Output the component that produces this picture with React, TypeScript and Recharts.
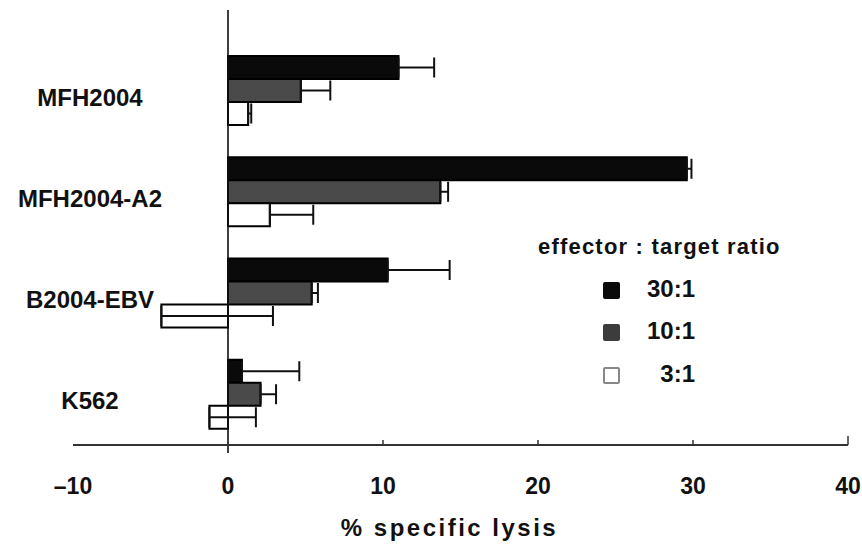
import React from 'react';
import { BarChart, Bar, XAxis, YAxis, ErrorBar, ReferenceLine, Legend, Label } from 'recharts';

const categories = ['MFH2004', 'MFH2004-A2', 'B2004-EBV', 'K562'];
const lysis30 = [11.0, 29.6, 10.3, 0.9];
const lysis10 = [4.7, 13.7, 5.4, 2.1];
const lysis3 = [1.3, 2.7, -4.3, -1.2];
const err30 = [2.3, 0.3, 4.0, 3.7];
const err10 = [1.9, 0.5, 0.4, 1.0];
const err3 = [0.2, 2.8, 7.2, 3.0];
const xTicks = [-10, 0, 10, 20, 30, 40];
const seriesNames = ['30:1', '10:1', '3:1'];

const data = categories.map((name, i) => ({
  name,
  r30: lysis30[i],
  r10: lysis10[i],
  r3: lysis3[i],
  e30: [0, err30[i]],
  e10: [0, err10[i]],
  e3: [0, err3[i]],
}));

const FONT = '"Liberation Sans", Arial, Helvetica, sans-serif';
const fills = ['#0a0a0a', '#4a4a4a', '#ffffff'];
const legendFills = ['#0a0a0a', '#3c3c3c', '#ffffff'];
const legendBorders = ['#0a0a0a', '#3c3c3c', '#888888'];
const TICK_GAP = 33;

const YTick = (props: any) => {
  const { y, payload } = props;
  return (
    <text x={90} y={y + 15} textAnchor="middle" fontFamily={FONT} fontWeight="bold" fontSize={24} fill="#111">
      {payload.value}
    </text>
  );
};

const XTick = (props: any) => {
  const { x, y, payload } = props;
  const v = payload.value as number;
  const label = v < 0 ? `\u2013${Math.abs(v)}` : `${v}`;
  const axisY = y - TICK_GAP;
  return (
    <g>
      {v !== 0 && v !== -10 ? (
        <line x1={x} x2={x} y1={axisY} y2={axisY - (v === 40 ? 9 : 5)} stroke="#333" strokeWidth={1.5} />
      ) : null}
      <text x={x} y={y} dy="0.71em" textAnchor="middle" fontFamily={FONT} fontWeight="bold" fontSize={23} fill="#111">
        {label}
      </text>
    </g>
  );
};

const ZeroLine = (p: any) => {
  const top = Math.min(p.y1, p.y2);
  const bottom = Math.max(p.y1, p.y2);
  return <line x1={p.x1} x2={p.x2} y1={top - 30} y2={bottom + 8} stroke="#111" strokeWidth={1.6} />;
};

const renderLegend = () => (
  <div style={{ position: 'relative', width: 270, height: 170, fontFamily: FONT, fontWeight: 'bold', color: '#111' }}>
    <div style={{ position: 'absolute', left: 0, top: 0, fontSize: 22, lineHeight: '22px', letterSpacing: 1.2, whiteSpace: 'nowrap' }}>
      effector : target ratio
    </div>
    {seriesNames.map((n, i) => (
      <React.Fragment key={n}>
        <div
          style={{
            position: 'absolute',
            left: 65,
            top: 45.5 + 42.5 * i,
            width: 17,
            height: 17,
            boxSizing: 'border-box',
            background: legendFills[i],
            border: `2px solid ${legendBorders[i]}`,
            borderRadius: 2,
          }}
        />
        <div
          style={{
            position: 'absolute',
            left: 100,
            width: 57,
            textAlign: 'right',
            top: 40.6 + 42.5 * i,
            fontSize: 24,
            lineHeight: '24px',
            whiteSpace: 'nowrap',
          }}
        >
          {n}
        </div>
      </React.Fragment>
    ))}
  </div>
);

export default function App() {
  return (
    <div style={{ position: 'absolute', left: 0, top: 0, background: '#fff' }}>
      <BarChart
        width={862}
        height={545}
        data={data}
        layout="vertical"
        margin={{ top: 40, right: 14, bottom: 0, left: 0 }}
        barSize={23}
        barGap={0}
      >
        <XAxis
          type="number"
          domain={[-10, 40]}
          ticks={xTicks}
          height={100}
          axisLine={{ stroke: '#333', strokeWidth: 2 }}
          tickLine={false}
          tickSize={0}
          tickMargin={TICK_GAP}
          tick={<XTick />}
        >
          <Label
            value="% specific lysis"
            position="insideBottom"
            offset={9}
            dx={-11}
            style={{ fontFamily: FONT, fontWeight: 'bold', fontSize: 24, fill: '#111', letterSpacing: 2.5 }}
          />
        </XAxis>
        <YAxis type="category" dataKey="name" width={73} axisLine={false} tickLine={false} tick={<YTick />} />
        <Legend content={renderLegend} layout="horizontal" verticalAlign="middle" align="center" wrapperStyle={{ left: 538, top: 236, width: 270 }} />
        <Bar dataKey="r30" name={seriesNames[0]} fill={fills[0]} stroke="#000" strokeWidth={2} isAnimationActive={false}>
          <ErrorBar dataKey="e30" direction="x" width={10} stroke="#111" strokeWidth={2} />
        </Bar>
        <Bar dataKey="r10" name={seriesNames[1]} fill={fills[1]} stroke="#000" strokeWidth={2} isAnimationActive={false}>
          <ErrorBar dataKey="e10" direction="x" width={10} stroke="#111" strokeWidth={2} />
        </Bar>
        <Bar dataKey="r3" name={seriesNames[2]} fill={fills[2]} stroke="#000" strokeWidth={2} isAnimationActive={false}>
          <ErrorBar dataKey="e3" direction="x" width={10} stroke="#111" strokeWidth={2} />
        </Bar>
        <ReferenceLine x={0} shape={ZeroLine} />
      </BarChart>
    </div>
  );
}
